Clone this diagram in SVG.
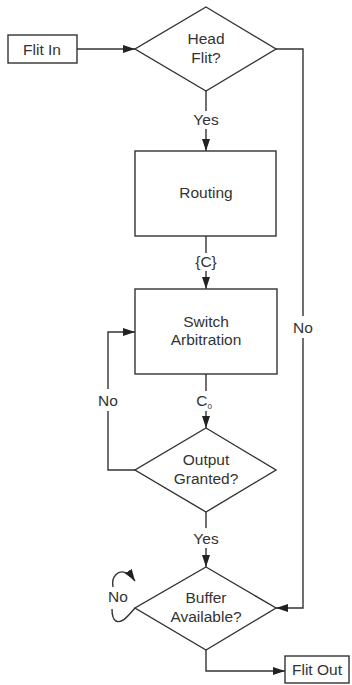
<svg xmlns="http://www.w3.org/2000/svg" width="352" height="685" viewBox="0 0 352 685">
  <style>
    .shape { fill: #ffffff; stroke: #333333; stroke-width: 1.4; }
    .wire { fill: none; stroke: #333333; stroke-width: 1.4; }
    .lbl { font-family: "Liberation Sans", Arial, sans-serif; font-size: 15.5px; fill: #333333; text-anchor: middle; }
  </style>
  <defs>
    <marker id="arrow" viewBox="0 0 12 8" refX="12" refY="4" markerWidth="12" markerHeight="8" markerUnits="userSpaceOnUse" orient="auto">
      <path d="M0,0 L12,4 L0,8 Z" fill="#222222"/>
    </marker>
  </defs>
  <rect width="352" height="685" fill="#ffffff"/>

  <!-- connectors -->
  <g id="connectors">
    <path class="wire" d="M77,49 H135" marker-end="url(#arrow)"/>
    <path class="wire" d="M206,91 V111"/>
    <path class="wire" d="M206,129 V151" marker-end="url(#arrow)"/>
    <path class="wire" d="M206,236 V253"/>
    <path class="wire" d="M206,271 V289" marker-end="url(#arrow)"/>
    <path class="wire" d="M206,374 V391"/>
    <path class="wire" d="M206,411 V428" marker-end="url(#arrow)"/>
    <path class="wire" d="M206,512 V528"/>
    <path class="wire" d="M206,548 V567" marker-end="url(#arrow)"/>
    <path class="wire" d="M135,470 H108 V411"/>
    <path class="wire" d="M108,389 V332 H135" marker-end="url(#arrow)"/>
    <path class="wire" d="M276,49 H303 V316"/>
    <path class="wire" d="M303,338 V608 H276" marker-end="url(#arrow)"/>
    <path class="wire" d="M206,650 V671 H285" marker-end="url(#arrow)"/>
    <!-- self loop on buffer check -->
    <path class="wire" d="M135,608 C128,616 122,624 116,621 C112,619 112,613 112,609"/>
    <path class="wire" d="M113,587 C111,577 118,569 126,573 C130,575 133,578 135,581" marker-end="url(#arrow)"/>
    <text class="lbl" x="206" y="125">Yes</text>
    <text class="lbl" x="206" y="267">{C}</text>
    <text class="lbl" x="204" y="406">C<tspan font-size="8" dy="3">0</tspan></text>
    <text class="lbl" x="206" y="544">Yes</text>
    <text class="lbl" x="108" y="406">No</text>
    <text class="lbl" x="303" y="333">No</text>
    <text class="lbl" x="118" y="602">No</text>
  </g>

  <g id="flit-in">
    <rect class="shape" x="8" y="35" width="69" height="28"/>
    <text class="lbl" x="42" y="55">Flit In</text>
  </g>

  <g id="head-flit">
    <polygon class="shape" points="206,7 276,49 206,91 135,49"/>
    <text class="lbl" x="206" y="44">Head</text>
    <text class="lbl" x="206" y="63">Flit?</text>
  </g>

  <g id="routing">
    <rect class="shape" x="135" y="151" width="141" height="85"/>
    <text class="lbl" x="206" y="198">Routing</text>
  </g>

  <g id="switch-arbitration">
    <rect class="shape" x="135" y="289" width="142" height="85"/>
    <text class="lbl" x="206" y="327">Switch</text>
    <text class="lbl" x="206" y="345">Arbitration</text>
  </g>

  <g id="output-granted">
    <polygon class="shape" points="206,428 276,470 206,512 135,470"/>
    <text class="lbl" x="206" y="465">Output</text>
    <text class="lbl" x="206" y="484">Granted?</text>
  </g>

  <g id="buffer-available">
    <polygon class="shape" points="206,567 276,608 206,650 135,608"/>
    <text class="lbl" x="206" y="603">Buffer</text>
    <text class="lbl" x="206" y="622">Available?</text>
  </g>

  <g id="flit-out">
    <rect class="shape" x="285" y="656" width="64" height="27"/>
    <text class="lbl" x="317" y="675">Flit Out</text>
  </g>
</svg>
